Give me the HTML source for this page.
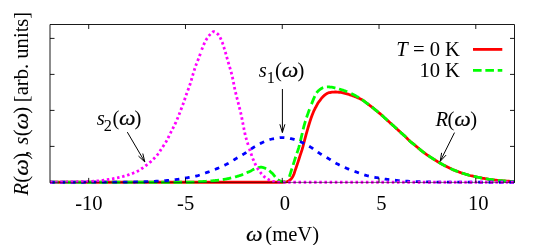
<!DOCTYPE html>
<html><head><meta charset="utf-8"><title>plot</title>
<style>
html,body{margin:0;padding:0;background:#fff;}
body{width:550px;height:245px;overflow:hidden;}
svg{display:block;will-change:transform;}
text{font-family:"Liberation Serif",serif;font-size:20.6px;fill:#000;}
.i{font-style:italic;}
.c{fill:none;stroke-width:2.8;stroke-linejoin:round;}
</style></head><body>
<svg width="550" height="245" viewBox="0 0 550 245">
<rect width="550" height="245" fill="#fff"/>
<path class="c" stroke="#ff0000" d="M50.0,182.25 L51.0,182.25 L52.0,182.25 L53.0,182.25 L54.0,182.25 L55.0,182.25 L56.0,182.25 L57.0,182.25 L58.0,182.25 L59.0,182.25 L60.0,182.25 L61.0,182.25 L62.0,182.25 L63.0,182.25 L64.0,182.25 L65.0,182.25 L66.0,182.25 L67.0,182.25 L68.0,182.25 L69.0,182.25 L70.0,182.25 L71.0,182.25 L72.0,182.25 L73.0,182.25 L74.0,182.25 L75.0,182.25 L76.0,182.25 L77.0,182.25 L78.0,182.25 L79.0,182.25 L80.0,182.25 L81.0,182.25 L82.0,182.25 L83.0,182.25 L84.0,182.25 L85.0,182.25 L86.0,182.25 L87.0,182.25 L88.0,182.25 L89.0,182.25 L90.0,182.25 L91.0,182.25 L92.0,182.25 L93.0,182.25 L94.0,182.25 L95.0,182.25 L96.0,182.25 L97.0,182.25 L98.0,182.25 L99.0,182.25 L100.0,182.25 L101.0,182.25 L102.0,182.25 L103.0,182.25 L104.0,182.25 L105.0,182.25 L106.0,182.25 L107.0,182.25 L108.0,182.25 L109.0,182.25 L110.0,182.25 L111.0,182.25 L112.0,182.25 L113.0,182.25 L114.0,182.25 L115.0,182.25 L116.0,182.25 L117.0,182.25 L118.0,182.25 L119.0,182.25 L120.0,182.25 L121.0,182.25 L122.0,182.25 L123.0,182.25 L124.0,182.25 L125.0,182.25 L126.0,182.25 L127.0,182.25 L128.0,182.25 L129.0,182.25 L130.0,182.25 L131.0,182.25 L132.0,182.25 L133.0,182.25 L134.0,182.25 L135.0,182.25 L136.0,182.25 L137.0,182.25 L138.0,182.25 L139.0,182.25 L140.0,182.25 L141.0,182.25 L142.0,182.25 L143.0,182.25 L144.0,182.25 L145.0,182.25 L146.0,182.25 L147.0,182.25 L148.0,182.25 L149.0,182.25 L150.0,182.25 L151.0,182.25 L152.0,182.25 L153.0,182.25 L154.0,182.25 L155.0,182.25 L156.0,182.25 L157.0,182.25 L158.0,182.25 L159.0,182.25 L160.0,182.25 L161.0,182.25 L162.0,182.25 L163.0,182.25 L164.0,182.25 L165.0,182.25 L166.0,182.25 L167.0,182.25 L168.0,182.25 L169.0,182.25 L170.0,182.25 L171.0,182.25 L172.0,182.25 L173.0,182.25 L174.0,182.25 L175.0,182.25 L176.0,182.25 L177.0,182.25 L178.0,182.25 L179.0,182.25 L180.0,182.25 L181.0,182.25 L182.0,182.25 L183.0,182.25 L184.0,182.25 L185.0,182.25 L186.0,182.25 L187.0,182.25 L188.0,182.25 L189.0,182.25 L190.0,182.25 L191.0,182.25 L192.0,182.25 L193.0,182.25 L194.0,182.25 L195.0,182.25 L196.0,182.25 L197.0,182.25 L198.0,182.25 L199.0,182.25 L200.0,182.25 L201.0,182.25 L202.0,182.25 L203.0,182.25 L204.0,182.25 L205.0,182.25 L206.0,182.25 L207.0,182.25 L208.0,182.25 L209.0,182.25 L210.0,182.25 L211.0,182.25 L212.0,182.25 L213.0,182.25 L214.0,182.25 L215.0,182.25 L216.0,182.25 L217.0,182.25 L218.0,182.25 L219.0,182.25 L220.0,182.25 L221.0,182.25 L222.0,182.25 L223.0,182.25 L224.0,182.25 L225.0,182.25 L226.0,182.25 L227.0,182.25 L228.0,182.25 L229.0,182.25 L230.0,182.25 L231.0,182.25 L232.0,182.25 L233.0,182.25 L234.0,182.25 L235.0,182.25 L236.0,182.25 L237.0,182.25 L238.0,182.25 L239.0,182.25 L240.0,182.25 L241.0,182.25 L242.0,182.25 L243.0,182.25 L244.0,182.25 L245.0,182.25 L246.0,182.25 L247.0,182.25 L248.0,182.25 L249.0,182.25 L250.0,182.25 L251.0,182.25 L252.0,182.25 L253.0,182.25 L254.0,182.25 L255.0,182.25 L256.0,182.25 L257.0,182.25 L258.0,182.25 L259.0,182.25 L260.0,182.25 L261.0,182.25 L262.0,182.25 L263.0,182.25 L264.0,182.25 L265.0,182.25 L266.0,182.25 L267.0,182.25 L268.0,182.25 L269.0,182.25 L270.0,182.25 L271.0,182.25 L272.0,182.25 L273.0,182.25 L274.0,182.25 L275.0,182.25 L276.0,182.25 L277.0,182.25 L278.0,182.25 L279.0,182.25 L280.0,182.25 L281.0,182.25 L282.0,182.25 L283.0,182.23 L284.0,182.17 L285.0,182.08 L286.0,181.95 L287.0,181.77 L288.0,181.35 L289.0,180.74 L290.0,179.98 L291.0,179.11 L292.0,177.87 L293.0,176.19 L294.0,174.03 L295.0,170.92 L296.0,167.96 L297.0,165.06 L298.0,162.10 L299.0,159.03 L300.0,155.92 L301.0,152.92 L302.0,149.91 L303.0,146.38 L304.0,142.50 L305.0,138.55 L306.0,134.82 L307.0,131.37 L308.0,127.90 L309.0,124.50 L310.0,121.32 L311.0,118.30 L312.0,115.50 L313.0,112.93 L314.0,110.57 L315.0,108.52 L316.0,106.73 L317.0,104.83 L318.0,103.00 L319.0,101.65 L320.0,100.40 L321.0,98.99 L322.0,97.68 L323.0,96.61 L324.0,95.67 L325.0,94.83 L326.0,94.09 L327.0,93.48 L328.0,93.00 L329.0,92.70 L330.0,92.50 L331.0,92.35 L332.0,92.22 L333.0,92.11 L334.0,92.03 L335.0,92.00 L336.0,92.02 L337.0,92.07 L338.0,92.15 L339.0,92.25 L340.0,92.35 L341.0,92.48 L342.0,92.65 L343.0,92.85 L344.0,93.07 L345.0,93.30 L346.0,93.55 L347.0,93.84 L348.0,94.15 L349.0,94.47 L350.0,94.80 L351.0,95.13 L352.0,95.48 L353.0,95.84 L354.0,96.21 L355.0,96.60 L356.0,97.00 L357.0,97.42 L358.0,97.86 L359.0,98.32 L360.0,98.80 L361.0,99.30 L362.0,99.81 L363.0,100.37 L364.0,101.00 L365.0,101.77 L366.0,102.60 L367.0,103.36 L368.0,104.10 L369.0,104.83 L370.0,105.56 L371.0,106.31 L372.0,107.09 L373.0,107.90 L374.0,108.72 L375.0,109.55 L376.0,110.38 L377.0,111.20 L378.0,112.01 L379.0,112.82 L380.0,113.65 L381.0,114.52 L382.0,115.41 L383.0,116.32 L384.0,117.24 L385.0,118.17 L386.0,119.09 L387.0,120.00 L388.0,120.90 L389.0,121.80 L390.0,122.70 L391.0,123.60 L392.0,124.49 L393.0,125.40 L394.0,126.30 L395.0,127.21 L396.0,128.12 L397.0,129.04 L398.0,129.96 L399.0,130.88 L400.0,131.79 L401.0,132.70 L402.0,133.60 L403.0,134.48 L404.0,135.38 L405.0,136.30 L406.0,137.28 L407.0,138.32 L408.0,139.36 L409.0,140.36 L410.0,141.30 L411.0,142.15 L412.0,142.94 L413.0,143.71 L414.0,144.47 L415.0,145.26 L416.0,146.08 L417.0,146.94 L418.0,147.81 L419.0,148.66 L420.0,149.50 L421.0,150.32 L422.0,151.12 L423.0,151.91 L424.0,152.68 L425.0,153.42 L426.0,154.13 L427.0,154.81 L428.0,155.48 L429.0,156.14 L430.0,156.80 L431.0,157.45 L432.0,158.10 L433.0,158.74 L434.0,159.37 L435.0,160.00 L436.0,160.63 L437.0,161.25 L438.0,161.87 L439.0,162.48 L440.0,163.07 L441.0,163.64 L442.0,164.20 L443.0,164.74 L444.0,165.28 L445.0,165.80 L446.0,166.32 L447.0,166.83 L448.0,167.33 L449.0,167.82 L450.0,168.30 L451.0,168.76 L452.0,169.22 L453.0,169.66 L454.0,170.09 L455.0,170.50 L456.0,170.90 L457.0,171.30 L458.0,171.68 L459.0,172.05 L460.0,172.40 L461.0,172.74 L462.0,173.06 L463.0,173.38 L464.0,173.69 L465.0,174.00 L466.0,174.31 L467.0,174.63 L468.0,174.94 L469.0,175.23 L470.0,175.50 L471.0,175.74 L472.0,175.96 L473.0,176.17 L474.0,176.38 L475.0,176.59 L476.0,176.80 L477.0,177.03 L478.0,177.26 L479.0,177.49 L480.0,177.70 L481.0,177.89 L482.0,178.08 L483.0,178.27 L484.0,178.45 L485.0,178.62 L486.0,178.79 L487.0,178.95 L488.0,179.11 L489.0,179.26 L490.0,179.40 L491.0,179.54 L492.0,179.68 L493.0,179.81 L494.0,179.94 L495.0,180.07 L496.0,180.19 L497.0,180.31 L498.0,180.41 L499.0,180.51 L500.0,180.60 L501.0,180.68 L502.0,180.76 L503.0,180.84 L504.0,180.92 L505.0,180.99 L506.0,181.07 L507.0,181.13 L508.0,181.20 L509.0,181.26 L510.0,181.31 L511.0,181.37 L512.0,181.41 L513.0,181.45 L514.0,181.49"/>
<path class="c" stroke="#00ff00" stroke-dasharray="8.6 3.75" stroke-dashoffset="0.00" d="M50.00,182.25 L50.50,182.25 L51.00,182.25 L51.50,182.25 L52.00,182.25 L52.50,182.25 L53.00,182.25 L53.50,182.25 L54.00,182.25 L54.50,182.25 L55.00,182.25 L55.50,182.25 L56.00,182.25 L56.50,182.25 L57.00,182.25 L57.50,182.25 L58.00,182.25 L58.50,182.25 L59.00,182.25 L59.50,182.25 L60.00,182.25 L60.50,182.25 L61.00,182.25 L61.50,182.25 L62.00,182.25 L62.50,182.25 L63.00,182.25 L63.50,182.25 L64.00,182.25 L64.50,182.25 L65.00,182.25 L65.50,182.25 L66.00,182.25 L66.50,182.25 L67.00,182.25 L67.50,182.25 L68.00,182.25 L68.50,182.25 L69.00,182.25 L69.50,182.25 L70.00,182.25 L70.50,182.25 L71.00,182.25 L71.50,182.25 L72.00,182.25 L72.50,182.25 L73.00,182.25 L73.50,182.25 L74.00,182.25 L74.50,182.25 L75.00,182.25 L75.50,182.25 L76.00,182.25 L76.50,182.25 L77.00,182.25 L77.50,182.25 L78.00,182.25 L78.50,182.25 L79.00,182.25 L79.50,182.25 L80.00,182.25 L80.50,182.25 L81.00,182.25 L81.50,182.25 L82.00,182.25 L82.50,182.25 L83.00,182.25 L83.50,182.25 L84.00,182.25 L84.50,182.25 L85.00,182.25 L85.50,182.25 L86.00,182.25 L86.50,182.25 L87.00,182.25 L87.50,182.25 L88.00,182.25 L88.50,182.25 L89.00,182.25 L89.50,182.25 L90.00,182.25 L90.50,182.25 L91.00,182.25 L91.50,182.25 L92.00,182.25 L92.50,182.25 L93.00,182.25 L93.50,182.25 L94.00,182.25 L94.50,182.25 L95.00,182.25 L95.50,182.25 L96.00,182.25 L96.50,182.25 L97.00,182.25 L97.50,182.25 L98.00,182.25 L98.50,182.25 L99.00,182.25 L99.50,182.25 L100.00,182.25 L100.50,182.25 L101.00,182.25 L101.50,182.25 L102.00,182.25 L102.50,182.25 L103.00,182.25 L103.50,182.25 L104.00,182.25 L104.50,182.25 L105.00,182.25 L105.50,182.25 L106.00,182.25 L106.50,182.25 L107.00,182.25 L107.50,182.25 L108.00,182.25 L108.50,182.25 L109.00,182.25 L109.50,182.25 L110.00,182.25 L110.50,182.25 L111.00,182.25 L111.50,182.25 L112.00,182.25 L112.50,182.25 L113.00,182.25 L113.50,182.25 L114.00,182.25 L114.50,182.25 L115.00,182.25 L115.50,182.25 L116.00,182.25 L116.50,182.25 L117.00,182.25 L117.50,182.25 L118.00,182.25 L118.50,182.25 L119.00,182.25 L119.50,182.25 L120.00,182.25 L120.50,182.25 L121.00,182.25 L121.50,182.25 L122.00,182.25 L122.50,182.25 L123.00,182.25 L123.50,182.25 L124.00,182.25 L124.50,182.25 L125.00,182.25 L125.50,182.25 L126.00,182.25 L126.50,182.25 L127.00,182.25 L127.50,182.25 L128.00,182.25 L128.50,182.25 L129.00,182.25 L129.50,182.25 L130.00,182.25 L130.50,182.25 L131.00,182.25 L131.50,182.25 L132.00,182.25 L132.50,182.25 L133.00,182.25 L133.50,182.25 L134.00,182.25 L134.50,182.25 L135.00,182.25 L135.50,182.25 L136.00,182.25 L136.50,182.25 L137.00,182.25 L137.50,182.25 L138.00,182.25 L138.50,182.25 L139.00,182.25 L139.50,182.25 L140.00,182.25 L140.50,182.25 L141.00,182.25 L141.50,182.25 L142.00,182.25 L142.50,182.25 L143.00,182.25 L143.50,182.25 L144.00,182.25 L144.50,182.25 L145.00,182.25 L145.50,182.25 L146.00,182.25 L146.50,182.25 L147.00,182.25 L147.50,182.25 L148.00,182.25 L148.50,182.25 L149.00,182.25 L149.50,182.25 L150.00,182.25 L150.50,182.25 L151.00,182.25 L151.50,182.25 L152.00,182.25 L152.50,182.25 L153.00,182.25 L153.50,182.25 L154.00,182.25 L154.50,182.25 L155.00,182.25 L155.50,182.25 L156.00,182.25 L156.50,182.25 L157.00,182.25 L157.50,182.25 L158.00,182.25 L158.50,182.25 L159.00,182.25 L159.50,182.25 L160.00,182.25 L160.50,182.25 L161.00,182.25 L161.50,182.25 L162.00,182.25 L162.50,182.25 L163.00,182.25 L163.50,182.25 L164.00,182.25 L164.50,182.25 L165.00,182.25 L165.50,182.25 L166.00,182.25 L166.50,182.25 L167.00,182.25 L167.50,182.25 L168.00,182.25 L168.50,182.25 L169.00,182.25 L169.50,182.25 L170.00,182.25 L170.50,182.25 L171.00,182.25 L171.50,182.25 L172.00,182.25 L172.50,182.25 L173.00,182.25 L173.50,182.25 L174.00,182.25 L174.50,182.25 L175.00,182.25 L175.50,182.25 L176.00,182.25 L176.50,182.25 L177.00,182.25 L177.50,182.25 L178.00,182.25 L178.50,182.25 L179.00,182.25 L179.50,182.25 L180.00,182.25 L180.50,182.25 L181.00,182.25 L181.50,182.25 L182.00,182.25 L182.50,182.25 L183.00,182.25 L183.50,182.25 L184.00,182.25 L184.50,182.25 L185.00,182.25 L185.50,182.25 L186.00,182.25 L186.50,182.25 L187.00,182.25 L187.50,182.25 L188.00,182.25 L188.50,182.25 L189.00,182.25 L189.50,182.25 L190.00,182.25 L190.50,182.25 L191.00,182.24 L191.50,182.23 L192.00,182.21 L192.50,182.19 L193.00,182.17 L193.50,182.14 L194.00,182.12 L194.50,182.08 L195.00,182.05 L195.50,182.02 L196.00,181.98 L196.50,181.95 L197.00,181.91 L197.50,181.87 L198.00,181.84 L198.50,181.80 L199.00,181.77 L199.50,181.73 L200.00,181.70 L200.50,181.67 L201.00,181.64 L201.50,181.61 L202.00,181.57 L202.50,181.54 L203.00,181.51 L203.50,181.48 L204.00,181.44 L204.50,181.41 L205.00,181.38 L205.50,181.34 L206.00,181.31 L206.50,181.27 L207.00,181.23 L207.50,181.20 L208.00,181.16 L208.50,181.12 L209.00,181.08 L209.50,181.04 L210.00,181.00 L210.50,180.96 L211.00,180.92 L211.50,180.87 L212.00,180.83 L212.50,180.79 L213.00,180.74 L213.50,180.70 L214.00,180.65 L214.50,180.61 L215.00,180.56 L215.50,180.51 L216.00,180.46 L216.50,180.41 L217.00,180.35 L217.50,180.30 L218.00,180.24 L218.50,180.18 L219.00,180.12 L219.50,180.06 L220.00,180.00 L220.50,179.93 L221.00,179.86 L221.50,179.79 L222.00,179.72 L222.50,179.64 L223.00,179.56 L223.50,179.47 L224.00,179.39 L224.50,179.30 L225.00,179.21 L225.50,179.12 L226.00,179.02 L226.50,178.92 L227.00,178.83 L227.50,178.72 L228.00,178.62 L228.50,178.52 L229.00,178.41 L229.50,178.31 L230.00,178.20 L230.50,178.09 L231.00,177.98 L231.50,177.86 L232.00,177.75 L232.50,177.63 L233.00,177.51 L233.25,177.44"/>
<path class="c" stroke="#00ff00" stroke-dasharray="8.6 3.75" stroke-dashoffset="10.51" d="M233.25,177.44 L233.75,177.32 L234.25,177.19 L234.75,177.06 L235.25,176.92 L235.75,176.79 L236.25,176.65 L236.75,176.50 L237.25,176.36 L237.75,176.21 L238.25,176.06 L238.75,175.90 L239.25,175.74 L239.75,175.58 L240.25,175.42 L240.75,175.25 L241.25,175.07 L241.75,174.88 L242.25,174.69 L242.75,174.50 L243.25,174.30 L243.75,174.09 L244.25,173.88 L244.75,173.67 L245.25,173.46 L245.75,173.24 L246.25,173.01 L246.75,172.79 L247.25,172.56 L247.75,172.33 L248.25,172.11 L248.75,171.88 L249.25,171.65 L249.75,171.42 L250.25,171.18 L250.75,170.93 L251.25,170.67 L251.75,170.39 L252.25,170.11 L252.75,169.82 L253.25,169.54 L253.75,169.27 L254.25,169.02 L254.75,168.78 L255.25,168.56 L255.75,168.38 L256.25,168.22 L256.75,168.07 L257.25,167.92 L257.75,167.77 L258.25,167.63 L258.75,167.50 L259.25,167.39 L259.75,167.30 L260.25,167.24 L260.75,167.20 L261.25,167.21 L261.75,167.24 L262.25,167.32 L262.75,167.43 L263.25,167.56 L263.75,167.72 L264.25,167.90 L264.75,168.10 L265.25,168.31 L265.75,168.53 L266.25,168.75 L266.75,168.98 L267.25,169.22 L267.75,169.52 L268.25,169.85 L268.75,170.22 L269.25,170.62 L269.75,171.05 L270.25,171.49 L270.75,171.95 L271.25,172.42 L271.75,172.88 L272.25,173.35 L272.75,173.85 L273.25,174.41 L273.75,175.01 L274.25,175.64 L274.75,176.28 L275.25,176.92 L275.75,177.55 L276.25,178.15 L276.75,178.71 L277.25,179.21 L277.75,179.63 L278.25,179.97 L278.75,180.25 L279.25,180.53 L279.75,180.80 L280.25,181.06 L280.75,181.30 L281.25,181.51 L281.75,181.69 L282.25,181.84 L282.75,181.94 L283.25,181.99 L283.75,181.99 L284.25,181.89 L284.75,181.69 L285.25,181.42 L285.75,181.07 L286.25,180.64 L286.75,180.16 L287.25,179.63 L287.75,179.06"/>
<path class="c" stroke="#00ff00" stroke-dasharray="8.6 3.75" stroke-dashoffset="9.50" d="M287.75,179.06 L288.25,178.44 L288.75,177.79 L289.25,176.80 L289.75,175.49 L290.25,173.97 L290.75,172.35 L291.25,170.76 L291.75,169.26 L292.25,167.73 L292.75,166.16 L293.25,164.55 L293.75,162.94 L294.25,161.32 L294.75,159.72 L295.25,158.15 L295.75,156.64 L296.25,155.19 L296.75,153.76 L297.25,152.31 L297.75,150.83 L298.25,149.27 L298.75,147.60 L299.25,145.78 L299.75,143.81 L300.25,141.75 L300.75,139.64 L301.25,137.54 L301.75,135.45 L302.25,133.29 L302.75,131.10 L303.25,128.95 L303.75,126.94 L304.25,125.10 L304.75,123.37 L305.25,121.70 L305.75,120.10 L306.25,118.55 L306.75,117.04 L307.25,115.57 L307.75,114.13 L308.25,112.71 L308.75,111.30 L309.25,109.94 L309.75,108.61 L310.25,107.32 L310.50,106.68"/>
<path class="c" stroke="#00ff00" stroke-dasharray="8.6 3.75" stroke-dashoffset="9.59" d="M310.50,106.68 L311.00,105.41 L311.50,104.15 L312.00,102.89 L312.50,101.62 L313.00,100.36 L313.50,99.14 L314.00,97.97 L314.50,96.86 L315.00,95.74 L315.50,94.66 L316.00,93.69 L316.50,92.90 L317.00,92.25 L317.50,91.67 L318.00,91.14 L318.50,90.67 L319.00,90.23 L319.50,89.83 L320.00,89.45 L320.50,89.08 L321.00,88.74 L321.50,88.42 L322.00,88.15 L322.50,87.94 L323.00,87.76 L323.50,87.60 L324.00,87.44 L324.50,87.29 L325.00,87.16 L325.50,87.05 L326.00,86.97 L326.50,86.92 L327.00,86.90 L327.50,86.90 L328.00,86.92 L328.50,86.94 L329.00,86.96 L329.50,86.99 L330.00,87.03 L330.50,87.07 L331.00,87.11 L331.50,87.16 L332.00,87.22 L332.50,87.31 L333.00,87.42 L333.50,87.54 L334.00,87.67 L334.50,87.80 L335.00,87.93 L335.50,88.05 L336.00,88.17 L336.50,88.30 L337.00,88.43 L337.50,88.56 L338.00,88.69 L338.50,88.83 L339.00,88.97 L339.50,89.11 L340.00,89.26 L340.50,89.41 L341.00,89.56 L341.50,89.72 L342.00,89.87 L342.50,90.04 L343.00,90.20 L343.50,90.37 L344.00,90.54 L344.50,90.71 L345.00,90.89 L345.50,91.07 L346.00,91.25 L346.50,91.44 L347.00,91.64 L347.50,91.85 L348.00,92.06 L348.50,92.28 L349.00,92.51 L349.25,92.62"/>
<path class="c" stroke="#00ff00" stroke-dasharray="8.6 3.75" stroke-dashoffset="10.17" d="M349.25,92.62 L349.75,92.85 L350.25,93.09 L350.75,93.32 L351.25,93.56 L351.75,93.80 L352.25,94.05 L352.75,94.29 L353.25,94.54 L353.75,94.80 L354.25,95.05 L354.75,95.31 L355.25,95.58 L355.75,95.85 L356.25,96.12 L356.75,96.39 L357.25,96.67 L357.75,96.95 L358.25,97.24 L358.75,97.54 L359.25,97.84 L359.75,98.16 L360.25,98.48 L360.75,98.81 L361.25,99.16 L361.75,99.50 L362.25,99.86 L362.75,100.22 L363.25,100.58 L363.75,100.95 L364.25,101.32 L364.75,101.68 L365.25,102.05 L365.75,102.42 L366.25,102.78 L366.75,103.15 L367.25,103.51 L367.75,103.88 L368.25,104.24 L368.75,104.61 L369.25,104.99 L369.75,105.36 L370.25,105.74 L370.75,106.12 L371.25,106.51 L371.75,106.90 L372.25,107.29 L372.75,107.69 L373.25,108.10 L373.75,108.51 L374.25,108.92 L374.75,109.34 L375.25,109.75 L375.75,110.17 L376.25,110.58 L376.75,111.00 L377.25,111.40 L377.75,111.81 L378.25,112.21 L378.75,112.61 L379.25,113.02 L379.75,113.44 L380.25,113.86 L380.75,114.30 L381.25,114.74 L381.75,115.19 L382.25,115.64 L382.75,116.09 L383.25,116.55 L383.75,117.01 L384.25,117.47 L384.75,117.94 L385.25,118.40 L385.75,118.86 L386.25,119.32 L386.75,119.77 L387.25,120.23 L387.75,120.68 L388.25,121.13 L388.75,121.58 L389.25,122.03"/>
<path class="c" stroke="#00ff00" stroke-dasharray="8.6 3.75" stroke-dashoffset="10.45" d="M389.25,122.03 L389.75,122.47 L390.25,122.92 L390.75,123.37 L391.25,123.82 L391.75,124.27 L392.25,124.72 L392.75,125.17 L393.25,125.62 L393.75,126.07 L394.25,126.53 L394.75,126.98 L395.25,127.44 L395.75,127.90 L396.25,128.35 L396.75,128.81 L397.25,129.27 L397.75,129.73 L398.25,130.19 L398.75,130.65 L399.25,131.11 L399.75,131.56 L400.25,132.02 L400.75,132.47 L401.25,132.93 L401.75,133.37 L402.25,133.82 L402.75,134.26 L403.25,134.70 L403.75,135.15 L404.25,135.60 L404.75,136.07 L405.25,136.54 L405.75,137.03 L406.25,137.54 L406.75,138.06 L407.25,138.58 L407.75,139.10 L408.25,139.61 L408.75,140.12 L409.25,140.61 L409.75,141.08 L410.25,141.52 L410.75,141.94 L411.25,142.35 L411.75,142.75 L412.25,143.14 L412.75,143.52 L413.25,143.90 L413.75,144.28 L414.25,144.66 L414.75,145.06 L415.25,145.46 L415.75,145.87 L416.25,146.30 L416.75,146.72 L417.25,147.16 L417.75,147.59 L418.25,148.02 L418.75,148.45 L419.25,148.88 L419.75,149.29 L420.25,149.70 L420.75,150.11 L421.25,150.52 L421.75,150.92 L422.25,151.32 L422.75,151.72 L423.25,152.11 L423.75,152.49 L424.25,152.87 L424.75,153.24 L425.25,153.60 L425.75,153.95 L426.25,154.30 L426.75,154.64 L427.25,154.98 L427.75,155.31 L428.25,155.65 L428.75,155.98 L429.25,156.31 L429.75,156.64 L430.25,156.96 L430.75,157.29 L431.25,157.62 L431.75,157.94 L432.25,158.26 L432.75,158.58 L433.25,158.90 L433.75,159.21 L434.25,159.53 L434.75,159.84 L435.25,160.16 L435.75,160.47 L436.25,160.78 L436.75,161.09 L437.25,161.41 L437.75,161.72 L438.25,162.02 L438.75,162.33 L439.25,162.63 L439.75,162.92 L440.25,163.21 L440.75,163.50 L441.25,163.78 L441.75,164.06 L442.25,164.34 L442.75,164.61 L443.25,164.88 L443.75,165.14 L444.25,165.41 L444.75,165.67 L445.25,165.93 L445.75,166.19 L446.25,166.45 L446.75,166.70 L447.25,166.96 L447.75,167.21 L448.00,167.33"/>
<path class="c" stroke="#00ff00" stroke-dasharray="8.6 3.75" stroke-dashoffset="9.83" d="M448.00,167.33 L448.50,167.58 L449.00,167.82 L449.50,168.06 L450.00,168.30 L450.50,168.53 L451.00,168.76 L451.50,168.99 L452.00,169.22 L452.50,169.44 L453.00,169.66 L453.50,169.87 L454.00,170.09 L454.50,170.29 L455.00,170.50 L455.50,170.70 L456.00,170.90 L456.50,171.10 L457.00,171.30 L457.50,171.49 L458.00,171.68 L458.50,171.86 L459.00,172.05 L459.50,172.22 L460.00,172.40 L460.50,172.57 L461.00,172.74 L461.50,172.90 L462.00,173.06 L462.50,173.22 L463.00,173.38 L463.50,173.54 L464.00,173.69 L464.50,173.85 L465.00,174.00 L465.50,174.16 L466.00,174.31 L466.50,174.47 L467.00,174.63 L467.50,174.79 L468.00,174.94 L468.50,175.09 L469.00,175.23 L469.50,175.37 L470.00,175.50 L470.50,175.62 L471.00,175.74 L471.50,175.85 L472.00,175.96 L472.50,176.07 L473.00,176.17 L473.50,176.28 L474.00,176.38 L474.50,176.48 L475.00,176.59 L475.50,176.69 L476.00,176.80 L476.50,176.91 L477.00,177.03 L477.50,177.14 L478.00,177.26 L478.50,177.38 L479.00,177.49 L479.50,177.60 L480.00,177.70 L480.50,177.80 L481.00,177.89 L481.50,177.99 L482.00,178.08 L482.50,178.18 L483.00,178.27 L483.50,178.36 L484.00,178.45 L484.50,178.54 L485.00,178.62 L485.50,178.71 L486.00,178.79 L486.50,178.87 L487.00,178.95 L487.50,179.03 L488.00,179.11 L488.50,179.18 L489.00,179.26 L489.50,179.33 L490.00,179.40 L490.50,179.47 L491.00,179.54 L491.50,179.61 L492.00,179.68 L492.50,179.75 L493.00,179.81 L493.50,179.88 L494.00,179.94 L494.50,180.01 L495.00,180.07 L495.50,180.13 L496.00,180.19 L496.50,180.25 L497.00,180.31 L497.50,180.36 L498.00,180.41 L498.50,180.46 L499.00,180.51 L499.50,180.56 L500.00,180.60 L500.50,180.64 L501.00,180.68 L501.50,180.72 L502.00,180.76 L502.50,180.80 L503.00,180.84 L503.50,180.88 L504.00,180.92 L504.50,180.96 L505.00,180.99 L505.50,181.03 L506.00,181.07 L506.50,181.10 L507.00,181.13 L507.50,181.17 L508.00,181.20 L508.50,181.23 L509.00,181.26 L509.50,181.29 L510.00,181.31 L510.50,181.34 L511.00,181.37 L511.50,181.39 L512.00,181.41 L512.50,181.43 L513.00,181.45 L513.50,181.47 L514.00,181.49 L514.50,181.50"/>
<path class="c" stroke="#0000ff" stroke-dasharray="4.7 5.7" d="M50.0,182.25 L51.0,182.25 L52.0,182.25 L53.0,182.25 L54.0,182.25 L55.0,182.25 L56.0,182.25 L57.0,182.25 L58.0,182.25 L59.0,182.25 L60.0,182.25 L61.0,182.25 L62.0,182.24 L63.0,182.24 L64.0,182.24 L65.0,182.24 L66.0,182.24 L67.0,182.24 L68.0,182.24 L69.0,182.24 L70.0,182.24 L71.0,182.24 L72.0,182.24 L73.0,182.24 L74.0,182.24 L75.0,182.24 L76.0,182.23 L77.0,182.23 L78.0,182.23 L79.0,182.23 L80.0,182.23 L81.0,182.23 L82.0,182.23 L83.0,182.23 L84.0,182.23 L85.0,182.22 L86.0,182.22 L87.0,182.22 L88.0,182.22 L89.0,182.22 L90.0,182.22 L91.0,182.22 L92.0,182.21 L93.0,182.21 L94.0,182.21 L95.0,182.21 L96.0,182.21 L97.0,182.21 L98.0,182.20 L99.0,182.20 L100.0,182.20 L101.0,182.20 L102.0,182.20 L103.0,182.20 L104.0,182.19 L105.0,182.19 L106.0,182.19 L107.0,182.19 L108.0,182.19 L109.0,182.18 L110.0,182.18 L111.0,182.18 L112.0,182.18 L113.0,182.17 L114.0,182.17 L115.0,182.17 L116.0,182.17 L117.0,182.16 L118.0,182.16 L119.0,182.16 L120.0,182.16 L121.0,182.15 L122.0,182.15 L123.0,182.15 L124.0,182.14 L125.0,182.14 L126.0,182.13 L127.0,182.12 L128.0,182.11 L129.0,182.09 L130.0,182.08 L131.0,182.07 L132.0,182.05 L133.0,182.03 L134.0,182.01 L135.0,181.99 L136.0,181.97 L137.0,181.95 L138.0,181.93 L139.0,181.91 L140.0,181.88 L141.0,181.86 L142.0,181.83 L143.0,181.81 L144.0,181.78 L145.0,181.76 L146.0,181.73 L147.0,181.70 L148.0,181.66 L149.0,181.62 L150.0,181.57 L151.0,181.53 L152.0,181.48 L153.0,181.43 L154.0,181.37 L155.0,181.32 L156.0,181.26 L157.0,181.21 L158.0,181.15 L159.0,181.09 L160.0,181.02 L161.0,180.95 L162.0,180.88 L163.0,180.81 L164.0,180.73 L165.0,180.65 L166.0,180.57 L167.0,180.49 L168.0,180.40 L169.0,180.31 L170.0,180.21 L171.0,180.11 L172.0,180.00 L173.0,179.90 L174.0,179.78 L175.0,179.67 L176.0,179.54 L177.0,179.42 L178.0,179.28 L179.0,179.14 L180.0,178.99 L181.0,178.83 L182.0,178.67 L183.0,178.50 L184.0,178.33 L185.0,178.16 L186.0,177.98 L187.0,177.81 L188.0,177.63 L189.0,177.45 L190.0,177.27 L191.0,177.09 L192.0,176.90 L193.0,176.70 L194.0,176.50 L195.0,176.28 L196.0,176.05 L197.0,175.81 L198.0,175.55 L199.0,175.26 L200.0,174.95 L201.0,174.62 L202.0,174.27 L203.0,173.91 L204.0,173.54 L205.0,173.17 L206.0,172.79 L207.0,172.42 L208.0,172.06 L209.0,171.70 L210.0,171.34 L211.0,170.97 L212.0,170.60 L213.0,170.23 L214.0,169.85 L215.0,169.46 L216.0,169.06 L217.0,168.65 L218.0,168.24 L219.0,167.82 L220.0,167.39 L221.0,166.95 L222.0,166.50 L223.0,166.05 L224.0,165.58 L225.0,165.09 L226.0,164.60 L227.0,164.08 L228.0,163.54 L229.0,162.97 L230.0,162.37 L231.0,161.74 L232.0,161.11 L233.0,160.47 L234.0,159.83 L235.0,159.21 L236.0,158.60 L237.0,158.01 L238.0,157.43 L239.0,156.86 L240.0,156.29 L241.0,155.71 L242.0,155.12 L243.0,154.53 L244.0,153.91 L245.0,153.26 L246.0,152.59 L247.0,151.89 L248.0,151.17 L249.0,150.45 L250.0,149.73 L251.0,149.03 L252.0,148.35 L253.0,147.71 L254.0,147.09 L255.0,146.48 L256.0,145.87 L257.0,145.28 L258.0,144.71 L259.0,144.16 L260.0,143.63 L261.0,143.13 L262.0,142.66 L263.0,142.22 L264.0,141.79 L265.0,141.36 L266.0,140.95 L267.0,140.55 L268.0,140.18 L269.0,139.83 L270.0,139.52 L271.0,139.24 L272.0,139.00 L273.0,138.80 L274.0,138.60 L275.0,138.42 L276.0,138.24 L277.0,138.07 L278.0,137.93 L279.0,137.80 L280.0,137.69 L281.0,137.61 L282.0,137.56 L283.0,137.58 L284.0,137.65 L285.0,137.74 L286.0,137.86 L287.0,138.00 L288.0,138.15 L289.0,138.33 L290.0,138.51 L291.0,138.70 L292.0,138.90 L293.0,139.11 L294.0,139.37 L295.0,139.67 L296.0,140.00 L297.0,140.36 L298.0,140.75 L299.0,141.15 L300.0,141.57 L301.0,142.00 L302.0,142.44 L303.0,142.89 L304.0,143.37 L305.0,143.89 L306.0,144.43 L307.0,144.99 L308.0,145.58 L309.0,146.18 L310.0,146.78 L311.0,147.40 L312.0,148.02 L313.0,148.69 L314.0,149.38 L315.0,150.09 L316.0,150.81 L317.0,151.53 L318.0,152.24 L319.0,152.93 L320.0,153.59 L321.0,154.22 L322.0,154.83 L323.0,155.42 L324.0,156.00 L325.0,156.57 L326.0,157.15 L327.0,157.72 L328.0,158.30 L329.0,158.90 L330.0,159.52 L331.0,160.15 L332.0,160.79 L333.0,161.43 L334.0,162.06 L335.0,162.67 L336.0,163.26 L337.0,163.82 L338.0,164.34 L339.0,164.85 L340.0,165.34 L341.0,165.81 L342.0,166.28 L343.0,166.73 L344.0,167.17 L345.0,167.60 L346.0,168.03 L347.0,168.45 L348.0,168.86 L349.0,169.26 L350.0,169.65 L351.0,170.04 L352.0,170.42 L353.0,170.79 L354.0,171.15 L355.0,171.52 L356.0,171.88 L357.0,172.24 L358.0,172.61 L359.0,172.98 L360.0,173.35 L361.0,173.73 L362.0,174.09 L363.0,174.45 L364.0,174.79 L365.0,175.11 L366.0,175.41 L367.0,175.69 L368.0,175.94 L369.0,176.17 L370.0,176.39 L371.0,176.60 L372.0,176.80 L373.0,176.99 L374.0,177.18 L375.0,177.36 L376.0,177.54 L377.0,177.72 L378.0,177.89 L379.0,178.07 L380.0,178.25 L381.0,178.42 L382.0,178.59 L383.0,178.75 L384.0,178.91 L385.0,179.07 L386.0,179.21 L387.0,179.35 L388.0,179.48 L389.0,179.61 L390.0,179.72 L391.0,179.84 L392.0,179.95 L393.0,180.06 L394.0,180.16 L395.0,180.26 L396.0,180.35 L397.0,180.44 L398.0,180.53 L399.0,180.61 L400.0,180.69 L401.0,180.77 L402.0,180.85 L403.0,180.92 L404.0,180.99 L405.0,181.05 L406.0,181.12 L407.0,181.18 L408.0,181.24 L409.0,181.29 L410.0,181.35 L411.0,181.40 L412.0,181.45 L413.0,181.50 L414.0,181.55 L415.0,181.60 L416.0,181.64 L417.0,181.68 L418.0,181.71 L419.0,181.74 L420.0,181.77 L421.0,181.80 L422.0,181.82 L423.0,181.85 L424.0,181.87 L425.0,181.90 L426.0,181.92 L427.0,181.94 L428.0,181.96 L429.0,181.98 L430.0,182.00 L431.0,182.02 L432.0,182.04 L433.0,182.06 L434.0,182.07 L435.0,182.09 L436.0,182.10 L437.0,182.11 L438.0,182.12 L439.0,182.13 L440.0,182.14 L441.0,182.15 L442.0,182.15 L443.0,182.15 L444.0,182.15 L445.0,182.16 L446.0,182.16 L447.0,182.16 L448.0,182.17 L449.0,182.17 L450.0,182.17 L451.0,182.17 L452.0,182.17 L453.0,182.18 L454.0,182.18 L455.0,182.18 L456.0,182.18 L457.0,182.19 L458.0,182.19 L459.0,182.19 L460.0,182.19 L461.0,182.19 L462.0,182.20 L463.0,182.20 L464.0,182.20 L465.0,182.20 L466.0,182.20 L467.0,182.21 L468.0,182.21 L469.0,182.21 L470.0,182.21 L471.0,182.21 L472.0,182.21 L473.0,182.22 L474.0,182.22 L475.0,182.22 L476.0,182.22 L477.0,182.22 L478.0,182.22 L479.0,182.22 L480.0,182.23 L481.0,182.23 L482.0,182.23 L483.0,182.23 L484.0,182.23 L485.0,182.23 L486.0,182.23 L487.0,182.23 L488.0,182.23 L489.0,182.23 L490.0,182.24 L491.0,182.24 L492.0,182.24 L493.0,182.24 L494.0,182.24 L495.0,182.24 L496.0,182.24 L497.0,182.24 L498.0,182.24 L499.0,182.24 L500.0,182.24 L501.0,182.24 L502.0,182.24 L503.0,182.25 L504.0,182.25 L505.0,182.25 L506.0,182.25 L507.0,182.25 L508.0,182.25 L509.0,182.25 L510.0,182.25 L511.0,182.25 L512.0,182.25 L513.0,182.25 L514.0,182.25"/>
<path class="c" stroke="#ff00ff" stroke-dasharray="2.5 2.68" stroke-dashoffset="0.00" d="M50.00,182.25 L50.50,182.24 L51.00,182.23 L51.50,182.23 L52.00,182.22 L52.50,182.21 L53.00,182.20 L53.50,182.20 L54.00,182.19 L54.50,182.18 L55.00,182.17 L55.50,182.16 L56.00,182.15 L56.50,182.15 L57.00,182.14 L57.50,182.13 L58.00,182.12 L58.50,182.11 L59.00,182.10 L59.50,182.10 L60.00,182.09 L60.50,182.08 L61.00,182.07 L61.50,182.06 L62.00,182.05 L62.50,182.04 L63.00,182.03 L63.50,182.02 L64.00,182.01 L64.50,182.01 L65.00,182.00 L65.50,181.99 L66.00,181.98 L66.50,181.97 L67.00,181.96 L67.50,181.95 L68.00,181.94 L68.50,181.93 L69.00,181.92 L69.50,181.91 L70.00,181.90 L70.50,181.89 L71.00,181.88 L71.50,181.87 L72.00,181.86 L72.50,181.85 L73.00,181.84 L73.50,181.83 L74.00,181.83 L74.50,181.82 L75.00,181.81 L75.50,181.80 L76.00,181.79 L76.50,181.78 L77.00,181.77 L77.50,181.76 L78.00,181.75 L78.50,181.74 L79.00,181.73 L79.50,181.72 L80.00,181.71 L80.50,181.70 L81.00,181.69 L81.50,181.68 L82.00,181.67 L82.50,181.66 L83.00,181.64 L83.50,181.63 L84.00,181.62 L84.50,181.61 L85.00,181.59 L85.50,181.58 L86.00,181.56 L86.50,181.55 L87.00,181.53 L87.50,181.52 L88.00,181.50 L88.50,181.48 L89.00,181.46 L89.50,181.44 L90.00,181.42 L90.50,181.40 L91.00,181.37 L91.50,181.35 L92.00,181.32 L92.50,181.29 L93.00,181.26 L93.50,181.23 L94.00,181.20 L94.50,181.17 L95.00,181.13 L95.50,181.10 L96.00,181.06 L96.50,181.02 L97.00,180.98 L97.50,180.94 L98.00,180.90 L98.50,180.86 L99.00,180.81 L99.50,180.75 L100.00,180.70 L100.50,180.64 L101.00,180.57 L101.50,180.51 L102.00,180.44 L102.50,180.37 L103.00,180.29 L103.50,180.22 L104.00,180.14 L104.50,180.06 L105.00,179.98 L105.50,179.90 L106.00,179.82 L106.50,179.74 L107.00,179.66 L107.50,179.58 L108.00,179.50 L108.50,179.42 L109.00,179.34 L109.50,179.26 L110.00,179.18 L110.50,179.10 L111.00,179.02 L111.50,178.93 L112.00,178.85 L112.50,178.76 L113.00,178.67 L113.50,178.58 L114.00,178.49 L114.50,178.40 L115.00,178.31 L115.50,178.21 L116.00,178.11 L116.50,178.01 L117.00,177.91 L117.50,177.81 L118.00,177.70 L118.50,177.59 L119.00,177.48 L119.50,177.36 L120.00,177.25 L120.50,177.13 L121.00,177.00 L121.50,176.88 L122.00,176.75 L122.50,176.62 L123.00,176.49 L123.50,176.35 L124.00,176.21 L124.50,176.07 L125.00,175.93 L125.50,175.78 L126.00,175.63 L126.50,175.48 L127.00,175.32 L127.50,175.16 L128.00,175.00 L128.50,174.84 L129.00,174.67 L129.50,174.50 L130.00,174.32 L130.50,174.14 L131.00,173.96 L131.50,173.77 L132.00,173.58 L132.50,173.39 L133.00,173.19 L133.50,172.98 L134.00,172.77 L134.50,172.56 L135.00,172.34 L135.50,172.11 L136.00,171.88 L136.50,171.64 L137.00,171.40 L137.50,171.15 L138.00,170.90 L138.50,170.64 L139.00,170.36 L139.50,170.06 L140.00,169.76 L140.50,169.44 L141.00,169.12 L141.50,168.78 L142.00,168.43 L142.50,168.08 L143.00,167.73 L143.50,167.36 L144.00,166.99 L144.50,166.62 L145.00,166.25 L145.50,165.87 L146.00,165.50 L146.50,165.12 L147.00,164.74 L147.50,164.35 L148.00,163.96 L148.50,163.55 L149.00,163.14 L149.50,162.73 L150.00,162.30 L150.50,161.87 L151.00,161.42 L151.50,160.97 L152.00,160.50 L152.50,160.02 L153.00,159.54 L153.50,159.05 L154.00,158.54 L154.50,158.03 L155.00,157.50 L155.50,156.95 L156.00,156.40 L156.50,155.82 L157.00,155.23 L157.50,154.63 L158.00,154.00 L158.50,153.34 L159.00,152.63 L159.50,151.89 L160.00,151.13 L160.50,150.35 L161.00,149.56 L161.50,148.77 L162.00,148.00 L162.50,147.24 L163.00,146.50 L163.50,145.75 L164.00,145.00 L164.50,144.25 L165.00,143.47 L165.50,142.68 L166.00,141.86 L166.50,141.00 L167.00,140.10 L167.50,139.15 L168.00,138.17 L168.50,137.15 L169.00,136.12 L169.50,135.08 L170.00,134.04 L170.50,133.01 L171.00,132.00 L171.50,131.01 L172.00,130.04"/>
<path class="c" stroke="#ff00ff" stroke-dasharray="2.5 2.68" stroke-dashoffset="3.88" d="M172.00,130.04 L172.50,129.07 L173.00,128.11 L173.50,127.14 L174.00,126.16 L174.50,125.16 L175.00,124.14 L175.50,123.09 L176.00,122.00 L176.50,120.87 L177.00,119.69 L177.50,118.48 L178.00,117.24 L178.50,115.98 L179.00,114.70 L179.50,113.40 L180.00,112.10 L180.50,110.80 L181.00,109.50 L181.50,108.21 L182.00,106.91 L182.50,105.59 L183.00,104.26 L183.50,102.90 L184.00,101.50 L184.50,100.04 L185.00,98.51 L185.50,96.98 L186.00,95.50 L186.50,94.09 L187.00,92.73 L187.50,91.40 L188.00,90.08 L188.50,88.75 L189.00,87.39 L189.50,85.98 L190.00,84.50 L190.50,82.92 L191.00,81.25 L191.50,79.53 L192.00,77.79 L192.50,76.06 L193.00,74.40 L193.50,72.77 L194.00,71.14 L194.50,69.53 L195.00,67.95 L195.50,66.44 L196.00,65.00 L196.50,63.66 L197.00,62.41 L197.50,61.20 L198.00,60.00 L198.50,58.78 L199.00,57.50 L199.50,56.14 L200.00,54.72 L200.50,53.27 L201.00,51.81"/>
<path class="c" stroke="#ff00ff" stroke-dasharray="2.5 2.68" stroke-dashoffset="3.00" d="M201.00,51.81 L201.50,50.39 L202.00,49.03 L202.50,47.75 L203.00,46.52 L203.50,45.29 L204.00,44.11 L204.50,42.97 L205.00,41.89 L205.50,40.90 L206.00,40.00 L206.50,39.18 L207.00,38.40 L207.50,37.66 L208.00,36.96 L208.50,36.30 L209.00,35.69 L209.50,35.12 L210.00,34.60 L210.50,34.08 L211.00,33.53 L211.50,33.00 L212.00,32.51 L212.50,32.11 L213.00,31.83 L213.50,31.70 L214.00,31.73 L214.50,31.85 L215.00,32.04 L215.50,32.31 L216.00,32.63 L216.50,33.00 L217.00,33.41 L217.50,33.85 L218.00,34.31 L218.50,34.81 L219.00,35.47 L219.50,36.28 L220.00,37.22 L220.50,38.26 L221.00,39.38 L221.50,40.56 L222.00,41.77 L222.50,43.01 L223.00,44.40 L223.50,45.94 L224.00,47.59 L224.50,49.29 L225.00,50.99 L225.50,52.67 L226.00,54.39 L226.50,56.15 L227.00,57.94 L227.50,59.72 L228.00,61.47 L228.50,63.17 L229.00,64.81 L229.50,66.44 L230.00,68.11 L230.50,69.85 L231.00,71.61 L231.50,73.43 L232.00,75.38 L232.50,77.52 L233.00,79.93 L233.50,82.50 L234.00,85.11 L234.50,87.65 L235.00,90.00 L235.50,92.15 L236.00,94.19 L236.50,96.16 L237.00,98.09 L237.50,100.03 L238.00,102.00 L238.50,103.97 L239.00,105.89 L239.50,107.82 L240.00,109.79 L240.50,111.83 L241.00,114.00 L241.50,116.36 L242.00,118.89 L242.50,121.48 L243.00,124.00 L243.50,126.50 L244.00,129.04 L244.50,131.53 L245.00,133.88 L245.50,136.00 L246.00,137.88 L246.50,139.61 L247.00,141.24 L247.50,142.81 L248.00,144.37 L248.50,145.95 L248.75,146.73"/>
<path class="c" stroke="#ff00ff" stroke-dasharray="2.5 2.68" stroke-dashoffset="3.20" d="M248.75,146.73 L249.25,148.26 L249.75,149.76 L250.25,151.24 L250.75,152.72 L251.25,154.20 L251.75,155.66 L252.25,157.07 L252.75,158.40 L253.25,159.65 L253.75,160.80 L254.25,161.92 L254.75,163.01 L255.25,164.07 L255.75,165.09 L256.25,166.07 L256.75,167.00 L257.25,167.89 L257.75,168.72 L258.25,169.49 L258.75,170.21 L259.25,170.90 L259.75,171.58 L260.25,172.23 L260.75,172.87 L261.25,173.49 L261.75,174.08 L262.25,174.65 L262.75,175.20 L263.25,175.72 L263.75,176.20 L264.25,176.66 L264.75,177.09 L265.25,177.48 L265.75,177.84 L266.25,178.16 L266.75,178.47 L267.25,178.78 L267.75,179.08 L268.25,179.37 L268.75,179.65 L269.25,179.92 L269.75,180.18 L270.25,180.42 L270.75,180.64 L271.25,180.85 L271.75,181.04 L272.25,181.20 L272.75,181.35 L273.25,181.47 L273.75,181.56 L274.25,181.63 L274.75,181.70 L275.25,181.77 L275.75,181.83 L276.25,181.89 L276.75,181.94 L277.25,181.99 L277.75,182.04 L278.25,182.08 L278.75,182.12 L279.25,182.16 L279.75,182.19 L280.25,182.21 L280.75,182.23 L281.25,182.24 L281.50,182.25"/>
<path class="c" stroke="#ff00ff" stroke-dasharray="2.5 2.68" stroke-dashoffset="3.67" d="M281.50,182.25 L282.00,182.25 L282.50,182.25 L283.00,182.25 L283.50,182.25 L284.00,182.25 L284.50,182.25 L285.00,182.25 L285.50,182.25 L286.00,182.25 L286.50,182.25 L287.00,182.25 L287.50,182.25 L288.00,182.25 L288.50,182.25 L289.00,182.25 L289.50,182.25 L290.00,182.25 L290.50,182.25 L291.00,182.25 L291.50,182.25 L292.00,182.25 L292.50,182.25 L293.00,182.25 L293.50,182.25 L294.00,182.25 L294.50,182.25 L295.00,182.25 L295.50,182.25 L296.00,182.25 L296.50,182.25 L297.00,182.25 L297.50,182.25 L298.00,182.25 L298.50,182.25 L299.00,182.25 L299.50,182.25 L300.00,182.25 L300.50,182.25 L301.00,182.25 L301.50,182.25 L302.00,182.25 L302.50,182.25 L303.00,182.25 L303.50,182.25 L304.00,182.25 L304.50,182.25 L305.00,182.25 L305.50,182.25 L306.00,182.25 L306.50,182.25 L307.00,182.25 L307.50,182.25 L308.00,182.25 L308.50,182.25 L309.00,182.25 L309.50,182.25 L310.00,182.25 L310.50,182.25 L311.00,182.25 L311.50,182.25 L312.00,182.25 L312.50,182.25 L313.00,182.25 L313.50,182.25 L314.00,182.25 L314.50,182.25 L315.00,182.25 L315.50,182.25 L316.00,182.25 L316.50,182.25 L317.00,182.25 L317.50,182.25 L318.00,182.25 L318.50,182.25 L319.00,182.25 L319.50,182.25 L320.00,182.25 L320.50,182.25 L321.00,182.25 L321.50,182.25 L322.00,182.25 L322.50,182.25 L323.00,182.25 L323.50,182.25 L324.00,182.25 L324.50,182.25 L325.00,182.25 L325.50,182.25 L326.00,182.25 L326.50,182.25 L327.00,182.25 L327.50,182.25 L328.00,182.25 L328.50,182.25 L329.00,182.25 L329.50,182.25 L330.00,182.25 L330.50,182.25 L331.00,182.25 L331.50,182.25 L332.00,182.25 L332.50,182.25 L333.00,182.25 L333.50,182.25 L334.00,182.25 L334.50,182.25 L335.00,182.25 L335.50,182.25 L336.00,182.25 L336.50,182.25 L337.00,182.25 L337.50,182.25 L338.00,182.25 L338.50,182.25 L339.00,182.25 L339.50,182.25 L340.00,182.25 L340.50,182.25 L341.00,182.25 L341.50,182.25 L342.00,182.25 L342.50,182.25 L343.00,182.25 L343.50,182.25 L344.00,182.25 L344.50,182.25 L345.00,182.25 L345.50,182.25 L346.00,182.25 L346.50,182.25 L347.00,182.25 L347.50,182.25 L348.00,182.25 L348.50,182.25 L349.00,182.25 L349.50,182.25 L350.00,182.25 L350.50,182.25 L351.00,182.25 L351.50,182.25 L352.00,182.25 L352.50,182.25 L353.00,182.25 L353.50,182.25 L354.00,182.25 L354.50,182.25 L355.00,182.25 L355.50,182.25 L356.00,182.25 L356.50,182.25 L357.00,182.25 L357.50,182.25 L358.00,182.25 L358.50,182.25 L359.00,182.25 L359.50,182.25 L360.00,182.25 L360.50,182.25 L361.00,182.25 L361.50,182.25 L362.00,182.25 L362.50,182.25 L363.00,182.25 L363.50,182.25 L364.00,182.25 L364.50,182.25 L365.00,182.25 L365.50,182.25 L366.00,182.25 L366.50,182.25 L367.00,182.25 L367.50,182.25 L368.00,182.25 L368.50,182.25 L369.00,182.25 L369.50,182.25 L370.00,182.25 L370.50,182.25 L371.00,182.25 L371.50,182.25 L372.00,182.25 L372.50,182.25 L373.00,182.25 L373.50,182.25 L374.00,182.25 L374.50,182.25 L375.00,182.25 L375.50,182.25 L376.00,182.25 L376.50,182.25 L377.00,182.25 L377.50,182.25 L378.00,182.25 L378.50,182.25 L379.00,182.25 L379.50,182.25 L380.00,182.25 L380.50,182.25 L381.00,182.25 L381.50,182.25 L382.00,182.25 L382.50,182.25 L383.00,182.25 L383.50,182.25 L384.00,182.25 L384.50,182.25 L385.00,182.25 L385.50,182.25 L386.00,182.25 L386.50,182.25 L387.00,182.25 L387.50,182.25 L388.00,182.25 L388.50,182.25 L389.00,182.25 L389.50,182.25 L390.00,182.25 L390.50,182.25 L391.00,182.25 L391.50,182.25 L392.00,182.25 L392.50,182.25 L393.00,182.25 L393.50,182.25 L394.00,182.25 L394.50,182.25 L395.00,182.25 L395.50,182.25 L396.00,182.25 L396.50,182.25 L397.00,182.25 L397.50,182.25 L398.00,182.25 L398.50,182.25 L399.00,182.25 L399.50,182.25 L400.00,182.25 L400.50,182.25 L401.00,182.25 L401.50,182.25 L402.00,182.25 L402.50,182.25 L403.00,182.25 L403.50,182.25 L404.00,182.25 L404.50,182.25 L405.00,182.25 L405.50,182.25 L406.00,182.25 L406.50,182.25 L407.00,182.25 L407.50,182.25 L408.00,182.25 L408.50,182.25 L409.00,182.25 L409.50,182.25 L410.00,182.25 L410.50,182.25 L411.00,182.25 L411.50,182.25 L412.00,182.25 L412.50,182.25 L413.00,182.25 L413.50,182.25 L414.00,182.25 L414.50,182.25 L415.00,182.25 L415.50,182.25 L416.00,182.25 L416.50,182.25 L417.00,182.25 L417.50,182.25 L418.00,182.25 L418.50,182.25 L419.00,182.25 L419.50,182.25 L420.00,182.25 L420.50,182.25 L421.00,182.25 L421.50,182.25 L422.00,182.25 L422.50,182.25 L423.00,182.25 L423.50,182.25 L424.00,182.25 L424.50,182.25 L425.00,182.25 L425.50,182.25 L426.00,182.25 L426.50,182.25 L427.00,182.25 L427.50,182.25 L428.00,182.25 L428.50,182.25 L429.00,182.25 L429.50,182.25 L430.00,182.25 L430.50,182.25 L431.00,182.25 L431.50,182.25 L432.00,182.25 L432.50,182.25 L433.00,182.25 L433.50,182.25 L434.00,182.25 L434.50,182.25 L435.00,182.25 L435.50,182.25 L436.00,182.25 L436.50,182.25 L437.00,182.25 L437.50,182.25 L438.00,182.25 L438.50,182.25 L439.00,182.25 L439.50,182.25 L440.00,182.25 L440.50,182.25 L441.00,182.25 L441.50,182.25 L442.00,182.25 L442.50,182.25 L443.00,182.25 L443.50,182.25 L444.00,182.25 L444.50,182.25 L445.00,182.25 L445.50,182.25 L446.00,182.25 L446.50,182.25 L447.00,182.25 L447.50,182.25 L448.00,182.25 L448.50,182.25 L449.00,182.25 L449.50,182.25 L450.00,182.25 L450.50,182.25 L451.00,182.25 L451.50,182.25 L452.00,182.25 L452.50,182.25 L453.00,182.25 L453.50,182.25 L454.00,182.25 L454.50,182.25 L455.00,182.25 L455.50,182.25 L456.00,182.25 L456.50,182.25 L457.00,182.25 L457.50,182.25 L458.00,182.25 L458.50,182.25 L459.00,182.25 L459.50,182.25 L460.00,182.25 L460.50,182.25 L461.00,182.25 L461.50,182.25 L462.00,182.25 L462.50,182.25 L463.00,182.25 L463.50,182.25 L464.00,182.25 L464.50,182.25 L465.00,182.25 L465.50,182.25 L466.00,182.25 L466.50,182.25 L467.00,182.25 L467.50,182.25 L468.00,182.25 L468.50,182.25 L469.00,182.25 L469.50,182.25 L470.00,182.25 L470.50,182.25 L471.00,182.25 L471.50,182.25 L472.00,182.25 L472.50,182.25 L473.00,182.25 L473.50,182.25 L474.00,182.25 L474.50,182.25 L475.00,182.25 L475.50,182.25 L476.00,182.25 L476.50,182.25 L477.00,182.25 L477.50,182.25 L478.00,182.25 L478.50,182.25 L479.00,182.25 L479.50,182.25 L480.00,182.25 L480.50,182.25 L481.00,182.25 L481.50,182.25 L482.00,182.25 L482.50,182.25 L483.00,182.25 L483.50,182.25 L484.00,182.25 L484.50,182.25 L485.00,182.25 L485.50,182.25 L486.00,182.25 L486.50,182.25 L487.00,182.25 L487.50,182.25 L488.00,182.25 L488.50,182.25 L489.00,182.25 L489.50,182.25 L490.00,182.25 L490.50,182.25 L491.00,182.25 L491.50,182.25 L492.00,182.25 L492.50,182.25 L493.00,182.25 L493.50,182.25 L494.00,182.25 L494.50,182.25 L495.00,182.25 L495.50,182.25 L496.00,182.25 L496.50,182.25 L497.00,182.25 L497.50,182.25 L498.00,182.25 L498.50,182.25 L499.00,182.25 L499.50,182.25 L500.00,182.25 L500.50,182.25 L501.00,182.25 L501.50,182.25 L502.00,182.25 L502.50,182.25 L503.00,182.25 L503.50,182.25 L504.00,182.25 L504.50,182.25 L505.00,182.25 L505.50,182.25 L506.00,182.25 L506.50,182.25 L507.00,182.25 L507.50,182.25 L508.00,182.25 L508.50,182.25 L509.00,182.25 L509.50,182.25 L510.00,182.25 L510.50,182.25 L511.00,182.25 L511.50,182.25 L512.00,182.25 L512.50,182.25 L513.00,182.25 L513.50,182.25 L514.00,182.25 L514.50,182.25"/>
<g fill="none" stroke="#000" stroke-width="0.9">
<path d="M50.0,182.85 V24.5 H514.5 V182.85"/><path stroke-opacity="0.62" d="M50.0,182.4 H514.5"/>
<path d="M88.71,182.4 v-4.5 M88.71,24.5 v4.5"/><path d="M185.48,182.4 v-4.5 M185.48,24.5 v4.5"/><path d="M282.25,182.4 v-4.5 M282.25,24.5 v4.5"/><path d="M379.02,182.4 v-4.5 M379.02,24.5 v4.5"/><path d="M475.79,182.4 v-4.5 M475.79,24.5 v4.5"/><path d="M50.0,146.4 h4.5 M514.5,146.4 h-4.5"/><path d="M50.0,110.4 h4.5 M514.5,110.4 h-4.5"/><path d="M50.0,74.4 h4.5 M514.5,74.4 h-4.5"/><path d="M50.0,38.400000000000006 h4.5 M514.5,38.400000000000006 h-4.5"/>
</g>
<path class="c" stroke="#ff0000" d="M473,49.4 H502.3"/>
<path class="c" stroke="#00ff00" stroke-dasharray="8.6 3.75" d="M473,70.4 H502.3"/>
<text x="460" y="55.6" text-anchor="end"><tspan class="i">T</tspan> = 0 K</text>
<text x="460" y="76.6" text-anchor="end">10 K</text>
<text class="i" style="font-size:20.60px" x="96.65" y="125.00">s</text>
<text style="font-size:16.27px" x="103.78" y="130.60">2</text>
<text style="font-size:20.60px" x="112.49" y="125.00">(</text>
<text class="i" style="font-size:20.60px" stroke="#000" stroke-width="0.18" transform="translate(118.96,125.00) scale(1.14,1)">ω</text>
<text style="font-size:20.60px" x="134.54" y="125.00">)</text>
<text class="i" style="font-size:20.60px" x="258.85" y="77.00">s</text>
<text style="font-size:16.27px" x="266.87" y="83.10">1</text>
<text style="font-size:20.60px" x="274.89" y="77.00">(</text>
<text class="i" style="font-size:20.60px" stroke="#000" stroke-width="0.18" transform="translate(281.66,77.00) scale(1.14,1)">ω</text>
<text style="font-size:20.60px" x="297.44" y="77.00">)</text>
<text class="i" style="font-size:20.60px" x="435.60" y="125.65">R</text>
<text style="font-size:20.60px" x="447.49" y="125.65">(</text>
<text class="i" style="font-size:20.60px" stroke="#000" stroke-width="0.18" transform="translate(454.16,125.65) scale(1.14,1)">ω</text>
<text style="font-size:20.60px" x="470.34" y="125.65">)</text>
<g fill="none" stroke="#000" stroke-width="1" stroke-linejoin="miter"><path d="M127.30,132.10 L144.80,161.90"/><path d="M142.80,153.53 L144.80,161.90 L138.47,156.08"/><path d="M282.40,89.00 L282.40,132.50"/><path d="M284.91,124.28 L282.40,132.50 L279.89,124.28"/><path d="M454.50,132.60 L440.20,161.30"/><path d="M446.12,155.06 L440.20,161.30 L441.62,152.82"/></g>
<text x="88.9" y="210.2" text-anchor="middle">-10</text><text x="185.7" y="210.2" text-anchor="middle">-5</text><text x="284.8" y="210.2" text-anchor="middle">0</text><text x="381.5" y="210.2" text-anchor="middle">5</text><text x="478.3" y="210.2" text-anchor="middle">10</text>
<text class="i" style="font-size:20.60px" stroke="#000" stroke-width="0.18" transform="translate(245.96,241.30) scale(1.14,1)">ω</text>
<text style="font-size:20.60px" x="265.29" y="241.30">(meV)</text>
<g transform="translate(27.5,195.3) rotate(-90)">
<text class="i" style="font-size:20.60px" x="-0.10" y="0.00">R</text>
<text style="font-size:20.60px" x="12.59" y="0.00">(</text>
<text class="i" style="font-size:20.60px" stroke="#000" stroke-width="0.18" transform="translate(19.56,0.00) scale(1.14,1)">ω</text>
<text style="font-size:20.60px" x="35.64" y="0.00">)</text>
<text style="font-size:20.60px" x="39.50" y="0.00">,</text>
<text class="i" style="font-size:20.60px" x="50.65" y="0.00">s</text>
<text style="font-size:20.60px" x="59.09" y="0.00">(</text>
<text class="i" style="font-size:20.60px" stroke="#000" stroke-width="0.18" transform="translate(65.81,0.00) scale(1.14,1)">ω</text>
<text style="font-size:20.60px" x="81.64" y="0.00">)</text>
<text style="font-size:20.60px" x="93.18" y="0.00">[arb. units]</text>
</g>
</svg>
</body></html>
